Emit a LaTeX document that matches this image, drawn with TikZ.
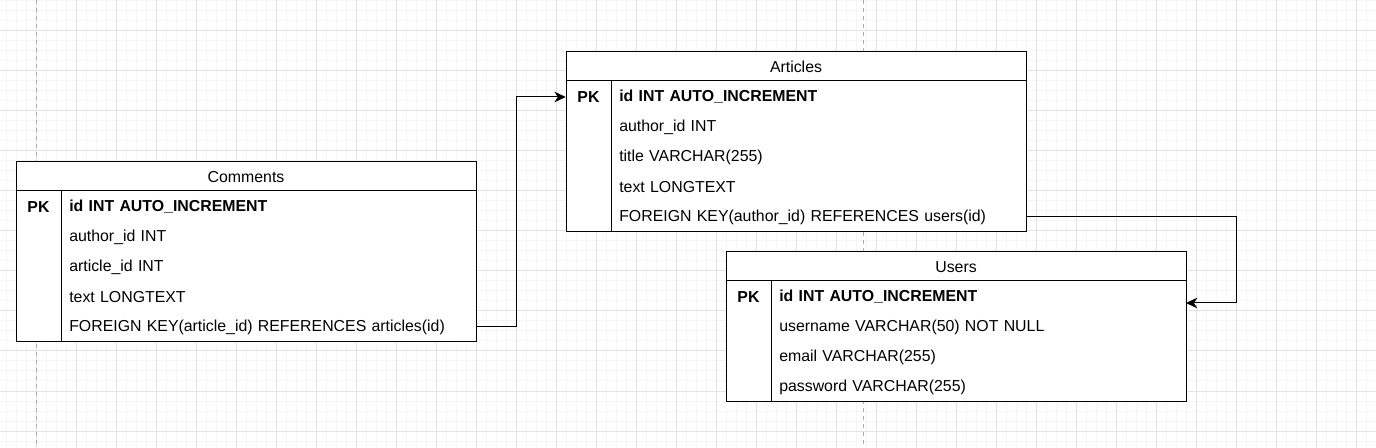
\documentclass[tikz,border=0pt]{standalone}
\usepackage{fontspec}
\setmainfont{Liberation Sans}
\usetikzlibrary{arrows.meta}
\begin{document}
\begin{tikzpicture}[x=0.75pt,y=-0.75pt,
  every node/.style={font=\fontsize{11.9pt}{14pt}\selectfont},
  minorgrid/.style={draw=black!4, line width=0.75pt},
  majorgrid/.style={draw=black!11, line width=0.75pt},
  pagebreak/.style={draw=black!32, dash pattern=on 3pt off 3pt, line width=0.75pt},
  tblbox/.style={draw=black, line width=0.75pt, fill=white, minimum width=345pt, anchor=north west, inner sep=0pt},
  tblline/.style={draw=black, line width=0.75pt},
  hdr/.style={anchor=center, inner sep=0pt},
  pkcell/.style={font=\fontsize{11.9pt}{14pt}\selectfont\bfseries, minimum width=33.75pt, minimum height=22.5pt, inner sep=0pt},
  rowcell/.style={anchor=west, text width=299.25pt, inner xsep=6pt, inner ysep=0pt, minimum height=22.5pt, align=left},
  pkrow/.style={rowcell, font=\fontsize{11.9pt}{14pt}\selectfont\bfseries},
  fk/.style={draw=black, line width=0.75pt, -{Stealth[length=8.5pt,width=8pt,inset=2.6pt]}}
]
\useasboundingbox (0,0) rectangle (1376,448);
\fill[white] (0,0) rectangle (1376,448);
% grid
\foreach \x in {6,16,...,1376} \draw[minorgrid] (\x,0) -- (\x,448);
\foreach \y in {1,11,...,448} \draw[minorgrid] (0,\y) -- (1376,\y);
\foreach \x in {36,76,...,1376} \draw[majorgrid] (\x,0) -- (\x,448);
\foreach \y in {31,71,...,448} \draw[majorgrid] (0,\y) -- (1376,\y);
\draw[pagebreak] (36,0) -- (36,448);
\draw[pagebreak] (863,0) -- (863,448);

% Comments
\node[tblbox, minimum height=135pt] (comments) at (16,161) {};
\node[hdr] (commentsh) at (246,177) {Comments};
\draw[tblline] (16,191) -- (476,191);
\draw[tblline] (61,191) -- (61,341);
\node[pkcell] (cpk) at (38.5,207) {PK};
\node[pkrow] (c1) at (61,207) {id INT AUTO\_INCREMENT};
\node[rowcell] (c2) at (61,237) {author\_id INT};
\node[rowcell] (c3) at (61,267) {article\_id INT};
\node[rowcell] (c4) at (61,297) {text LONGTEXT};
\node[rowcell] (c5) at (61,327) {FOREIGN KEY(article\_id) REFERENCES articles(id)};

% Articles
\node[tblbox, minimum height=135pt] (articles) at (566,51) {};
\node[hdr] (articlesh) at (796,67) {Articles};
\draw[tblline] (566,81) -- (1026,81);
\draw[tblline] (611,81) -- (611,231);
\node[pkcell] (apk) at (588.5,97) {PK};
\node[pkrow] (a1) at (611,97) {id INT AUTO\_INCREMENT};
\node[rowcell] (a2) at (611,127) {author\_id INT};
\node[rowcell] (a3) at (611,157) {title VARCHAR(255)};
\node[rowcell] (a4) at (611,187) {text LONGTEXT};
\node[rowcell] (a5) at (611,217) {FOREIGN KEY(author\_id) REFERENCES users(id)};

% Users
\node[tblbox, minimum height=112.5pt] (users) at (726,251) {};
\node[hdr] (usersh) at (956,267) {Users};
\draw[tblline] (726,281) -- (1186,281);
\draw[tblline] (771,281) -- (771,401);
\node[pkcell] (upk) at (748.5,297) {PK};
\node[pkrow] (u1) at (771,297) {id INT AUTO\_INCREMENT};
\node[rowcell] (u2) at (771,327) {username VARCHAR(50) NOT NULL};
\node[rowcell] (u3) at (771,357) {email VARCHAR(255)};
\node[rowcell] (u4) at (771,387) {password VARCHAR(255)};
\coordinate (usersin) at (1186,303);

% connectors
\draw[fk] (c5.east) -- ++(40,0) |- (apk.west);
\draw[fk] (a5.east) -- ++(210,0) |- (usersin);
\end{tikzpicture}
\end{document}
